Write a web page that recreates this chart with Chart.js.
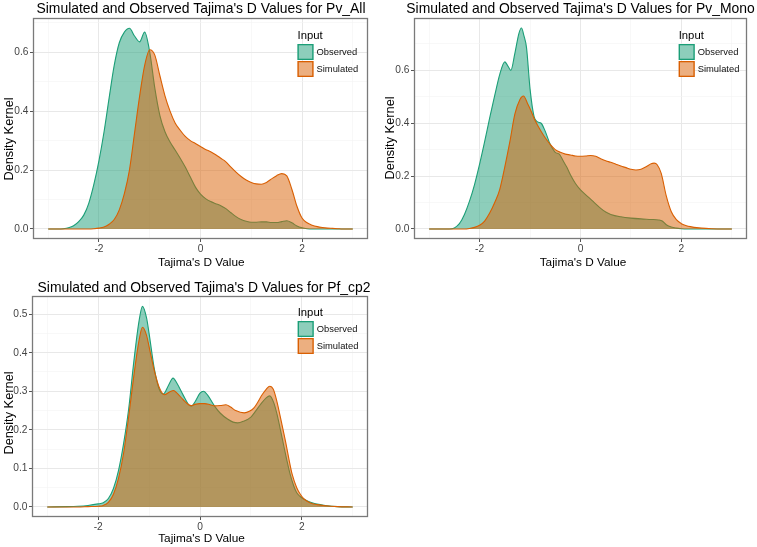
<!DOCTYPE html>
<html><head><meta charset="utf-8">
<script src="https://cdn.jsdelivr.net/npm/chart.js@4/dist/chart.umd.min.js"></script>
<style>
html,body{margin:0;padding:0;background:#fff;width:757px;height:547px;overflow:hidden;position:relative}
canvas{position:absolute}
</style></head><body>
<canvas id="c1" width="378" height="270" style="left:0;top:0;width:378px;height:270px"></canvas>
<canvas id="c2" width="379" height="270" style="left:378px;top:0;width:379px;height:270px"></canvas>
<canvas id="c3" width="378" height="277" style="left:0;top:270px;width:378px;height:277px"></canvas>
<script>
// ---------- data ----------
const seriesNames = ['Observed', 'Simulated'];
const legendTitle = 'Input';
const xAxisTitle = "Tajima's D Value";
const yAxisTitle = 'Density Kernel';
const panelTitles = [
  "Simulated and Observed Tajima's D Values for Pv_All",
  "Simulated and Observed Tajima's D Values for Pv_Mono",
  "Simulated and Observed Tajima's D Values for Pf_cp2"
];
const xMajorTicks = [-2, 0, 2];
const xMinorTicks = [-3, -1, 1, 3];

// Panel 1: Pv_All
const p1X = [-3.0,-2.9,-2.8,-2.7,-2.6,-2.5,-2.4,-2.3,-2.2,-2.1,-2.0,-1.9,-1.8,-1.7,-1.6,-1.5,-1.4,-1.3,-1.2,-1.1,-1.0,-0.9,-0.8,-0.7,-0.6,-0.5,-0.4,-0.3,-0.2,-0.1,0.0,0.1,0.2,0.3,0.4,0.5,0.6,0.7,0.8,0.9,1.0,1.1,1.2,1.3,1.4,1.5,1.6,1.7,1.8,1.9,2.0,2.1,2.2,2.3,2.4,2.5,2.6,2.7,2.8,2.9,3.0];
const p1Observed = [0,0,0,0.001,0.004,0.011,0.025,0.047,0.088,0.152,0.232,0.33,0.445,0.555,0.632,0.668,0.681,0.655,0.635,0.668,0.6,0.478,0.385,0.33,0.295,0.268,0.24,0.21,0.176,0.142,0.118,0.103,0.093,0.086,0.079,0.069,0.055,0.042,0.032,0.026,0.023,0.023,0.024,0.024,0.022,0.022,0.025,0.028,0.021,0.01,0.004,0.001,0,0,0,0,0,0,0,0,0];
const p1Simulated = [0,0,0,0,0,0,0,0,0,0.001,0.003,0.007,0.016,0.032,0.065,0.12,0.2,0.325,0.45,0.555,0.608,0.59,0.52,0.452,0.4,0.36,0.335,0.314,0.3,0.29,0.28,0.27,0.262,0.252,0.24,0.228,0.21,0.193,0.178,0.166,0.158,0.153,0.152,0.158,0.17,0.181,0.188,0.18,0.135,0.077,0.037,0.021,0.013,0.008,0.005,0.003,0.002,0.001,0,0,0];
const p1YMajor = [0, 0.2, 0.4, 0.6];
const p1YMinor = [0.1, 0.3, 0.5, 0.7];

// Panel 2: Pv_Mono
const p2ObsX = [-3.0,-2.6,-2.5,-2.4,-2.3,-2.2,-2.1,-2.0,-1.9,-1.8,-1.7,-1.6,-1.5,-1.45,-1.38,-1.3,-1.22,-1.17,-1.12,-1.07,-1.0,-0.92,-0.85,-0.78,-0.7,-0.6,-0.5,-0.42,-0.35,-0.27,-0.2,-0.1,0.0,0.1,0.2,0.3,0.4,0.5,0.6,0.8,1.0,1.2,1.4,1.55,1.62,1.7,1.8,1.9,2.0,2.1,3.0];
const p2Observed = [0,0,0.004,0.02,0.055,0.105,0.168,0.245,0.33,0.42,0.505,0.585,0.632,0.62,0.6,0.665,0.74,0.76,0.73,0.686,0.53,0.425,0.405,0.4,0.37,0.32,0.29,0.283,0.26,0.233,0.205,0.172,0.148,0.13,0.113,0.095,0.078,0.064,0.055,0.046,0.041,0.038,0.036,0.034,0.03,0.016,0.007,0.003,0.001,0,0];
const p2SimX = [-3.0,-2.3,-2.2,-2.1,-2.0,-1.9,-1.8,-1.7,-1.6,-1.5,-1.4,-1.3,-1.2,-1.13,-1.05,-1.0,-0.9,-0.8,-0.7,-0.6,-0.5,-0.4,-0.3,-0.2,-0.1,0.0,0.1,0.2,0.3,0.4,0.5,0.6,0.7,0.8,0.9,1.0,1.1,1.2,1.3,1.4,1.46,1.52,1.6,1.7,1.8,1.9,2.0,2.1,2.2,2.3,2.4,2.6,2.8,3.0];
const p2Simulated = [0,0,0.002,0.006,0.014,0.03,0.06,0.1,0.15,0.235,0.33,0.435,0.49,0.503,0.475,0.455,0.41,0.375,0.345,0.32,0.3,0.29,0.283,0.28,0.276,0.275,0.276,0.278,0.275,0.266,0.258,0.252,0.245,0.238,0.232,0.226,0.223,0.226,0.235,0.247,0.249,0.243,0.21,0.125,0.065,0.035,0.02,0.012,0.008,0.005,0.003,0.001,0,0];
const p2YMajor = [0, 0.2, 0.4, 0.6];
const p2YMinor = [0.1, 0.3, 0.5, 0.7];

// Panel 3: Pf_cp2
const p3ObsX = [-3.0,-2.6,-2.4,-2.2,-2.0,-1.9,-1.8,-1.7,-1.6,-1.5,-1.4,-1.3,-1.2,-1.13,-1.05,-1.0,-0.9,-0.8,-0.72,-0.62,-0.53,-0.45,-0.33,-0.22,-0.17,-0.1,0.0,0.07,0.15,0.29,0.4,0.54,0.65,0.74,0.85,1.0,1.1,1.2,1.3,1.37,1.45,1.51,1.58,1.64,1.7,1.77,1.84,1.9,2.0,2.1,2.2,2.36,2.5,2.7,3.0];
const p3Observed = [0,0.001,0.002,0.004,0.008,0.011,0.022,0.048,0.095,0.165,0.255,0.377,0.48,0.52,0.49,0.45,0.36,0.305,0.293,0.315,0.334,0.32,0.29,0.265,0.261,0.272,0.295,0.3,0.29,0.261,0.243,0.228,0.22,0.218,0.222,0.233,0.25,0.268,0.283,0.288,0.27,0.242,0.2,0.162,0.125,0.085,0.055,0.037,0.024,0.016,0.011,0.006,0.003,0.001,0];
const p3SimX = [-3.0,-2.4,-2.2,-2.0,-1.9,-1.8,-1.7,-1.6,-1.5,-1.4,-1.3,-1.2,-1.13,-1.05,-0.98,-0.9,-0.8,-0.7,-0.6,-0.52,-0.45,-0.33,-0.22,-0.17,-0.1,0.0,0.09,0.2,0.29,0.4,0.51,0.6,0.7,0.87,0.97,1.06,1.15,1.22,1.3,1.37,1.44,1.51,1.6,1.68,1.75,1.81,1.9,1.97,2.05,2.16,2.3,2.48,2.7,3.0];
const p3Simulated = [0,0,0.001,0.002,0.004,0.012,0.033,0.075,0.14,0.235,0.34,0.43,0.466,0.445,0.403,0.355,0.31,0.291,0.298,0.302,0.295,0.278,0.265,0.263,0.266,0.268,0.268,0.265,0.262,0.263,0.265,0.259,0.25,0.244,0.248,0.257,0.275,0.291,0.305,0.313,0.305,0.274,0.22,0.17,0.122,0.085,0.05,0.033,0.02,0.011,0.006,0.003,0.001,0];
const p3YMajor = [0, 0.1, 0.2, 0.3, 0.4, 0.5];
const p3YMinor = [0.05, 0.15, 0.25, 0.35, 0.45];

// ---------- styling ----------
const FONT = '"Liberation Sans", Arial, Helvetica, sans-serif';
const obsLine = '#1B9E77', obsFill = 'rgba(27,158,119,0.5)';
const simLine = '#D95F02', simFill = 'rgba(217,95,2,0.5)';

const decor = {
  id: 'decor',
  afterDraw(chart, args, o) {
    const ctx = chart.ctx, a = chart.chartArea;
    ctx.save();
    ctx.strokeStyle = '#7a7a7a';
    ctx.lineWidth = 1.3;
    ctx.strokeRect(a.left + 0.5, a.top + 0.5, a.right - a.left - 1, a.bottom - a.top - 1);
    ctx.fillStyle = '#000';
    ctx.textBaseline = 'alphabetic';
    ctx.textAlign = 'center';
    ctx.font = '13.9px ' + FONT;
    ctx.fillText(o.title, o.titleX, o.titleY);
    ctx.font = '11.8px ' + FONT;
    ctx.fillText(xAxisTitle, o.xtX, o.xtY);
    ctx.save();
    ctx.translate(o.ytX, o.ytY);
    ctx.rotate(-Math.PI / 2);
    ctx.font = '12.8px ' + FONT;
    ctx.fillText(yAxisTitle, 0, 0);
    ctx.restore();
    // legend
    ctx.textAlign = 'left';
    ctx.font = '11.3px ' + FONT;
    ctx.fillText(legendTitle, o.lgX, o.lgY);
    const fills = [obsFill, simFill], lines = [obsLine, simLine];
    for (let i = 0; i < 2; i++) {
      const by = o.lgY + 5.5 + i * 17;
      ctx.fillStyle = '#fff';
      ctx.fillRect(o.lgX, by, 16, 16);
      ctx.fillStyle = fills[i];
      ctx.fillRect(o.lgX, by, 16, 16);
      ctx.strokeStyle = lines[i];
      ctx.lineWidth = 1.3;
      ctx.strokeRect(o.lgX + 0.65, by + 0.65, 14.7, 14.7);
      ctx.fillStyle = '#111';
      ctx.font = '9.4px ' + FONT;
      ctx.textBaseline = 'middle';
      ctx.fillText(seriesNames[i], o.lgX + 19, by + 8);
      ctx.textBaseline = 'alphabetic';
    }
    ctx.restore();
  }
};

function makePanel(id, obsX, obsY, simX, simY, yMin, yMax, yMajor, yMinor, box, deco) {
  const canvas = document.getElementById(id);
  const H = canvas.height;
  const xAll = [...xMinorTicks, ...xMajorTicks].sort((a, b) => a - b);
  const yAll = [...yMajor, ...yMinor].sort((a, b) => a - b);
  const isXMajor = v => xMajorTicks.includes(v);
  const isYMajor = v => yMajor.includes(v);
  const gridOpts = (isMajor) => ({
    color: c => (c.tick && isMajor(c.tick.value)) ? '#e8e8e8' : '#f3f3f3',
    lineWidth: c => (c.tick && isMajor(c.tick.value)) ? 1 : 0.6,
    tickColor: c => (c.tick && isMajor(c.tick.value)) ? '#555' : 'rgba(0,0,0,0)',
    tickWidth: 1,
    tickLength: 3,
    drawTicks: true
  });
  return new Chart(canvas, {
    type: 'line',
    data: {
      datasets: [
        { label: seriesNames[0], data: obsX.map((x, i) => ({ x, y: obsY[i] })),
          borderColor: obsLine, backgroundColor: obsFill, fill: 'origin', order: 2 },
        { label: seriesNames[1], data: simX.map((x, i) => ({ x, y: simY[i] })),
          borderColor: simLine, backgroundColor: simFill, fill: 'origin', order: 1 }
      ]
    },
    options: {
      responsive: false,
      animation: false,
      devicePixelRatio: 1,
      events: [],
      elements: {
        point: { radius: 0 },
        line: { borderWidth: 1.1, cubicInterpolationMode: 'monotone' }
      },
      layout: { padding: { left: 0, top: box.top, right: box.right, bottom: 0 } },
      scales: {
        x: {
          type: 'linear', min: -3.3, max: 3.3,
          afterBuildTicks: s => { s.ticks = xAll.map(v => ({ value: v })); },
          afterFit: s => { s.height = H - box.bottom; },
          ticks: { autoSkip: false, maxRotation: 0, minRotation: 0, padding: 1.5, color: '#444',
                   font: { family: FONT, size: 10.2 },
                   callback: v => isXMajor(v) ? String(v) : '' },
          grid: gridOpts(isXMajor),
          border: { display: false }
        },
        y: {
          type: 'linear', min: yMin, max: yMax,
          afterBuildTicks: s => { s.ticks = yAll.map(v => ({ value: v })); },
          afterFit: s => { s.width = box.left; },
          ticks: { autoSkip: false, padding: 1.5, color: '#444',
                   font: { family: FONT, size: 10.2 },
                   callback: v => isYMajor(v) ? v.toFixed(1) : '' },
          grid: gridOpts(isYMajor),
          border: { display: false }
        }
      },
      plugins: {
        legend: { display: false },
        tooltip: { enabled: false },
        decor: deco
      }
    },
    plugins: [decor]
  });
}

makePanel('c1', p1X, p1Observed, p1X, p1Simulated, -0.034, 0.716, p1YMajor, p1YMinor,
  { left: 33, top: 18, right: 10, bottom: 239 },
  { title: panelTitles[0], titleX: 201, titleY: 13, xtX: 201.3, xtY: 265.5, ytX: 13.3, ytY: 139, lgX: 297.5, lgY: 38.5 });

makePanel('c2', p2ObsX, p2Observed, p2SimX, p2Simulated, -0.038, 0.798, p2YMajor, p2YMinor,
  { left: 36, top: 18, right: 10, bottom: 239 },
  { title: panelTitles[1], titleX: 202.5, titleY: 13, xtX: 205, xtY: 265.5, ytX: 15.8, ytY: 138, lgX: 300.7, lgY: 38.5 });

makePanel('c3', p3ObsX, p3Observed, p3SimX, p3Simulated, -0.026, 0.547, p3YMajor, p3YMinor,
  { left: 32, top: 26, right: 10, bottom: 247 },
  { title: panelTitles[2], titleX: 204, titleY: 21.5, xtX: 201.5, xtY: 271.5, ytX: 13.3, ytY: 143, lgX: 297.7, lgY: 45.5 });
</script>
</body></html>
